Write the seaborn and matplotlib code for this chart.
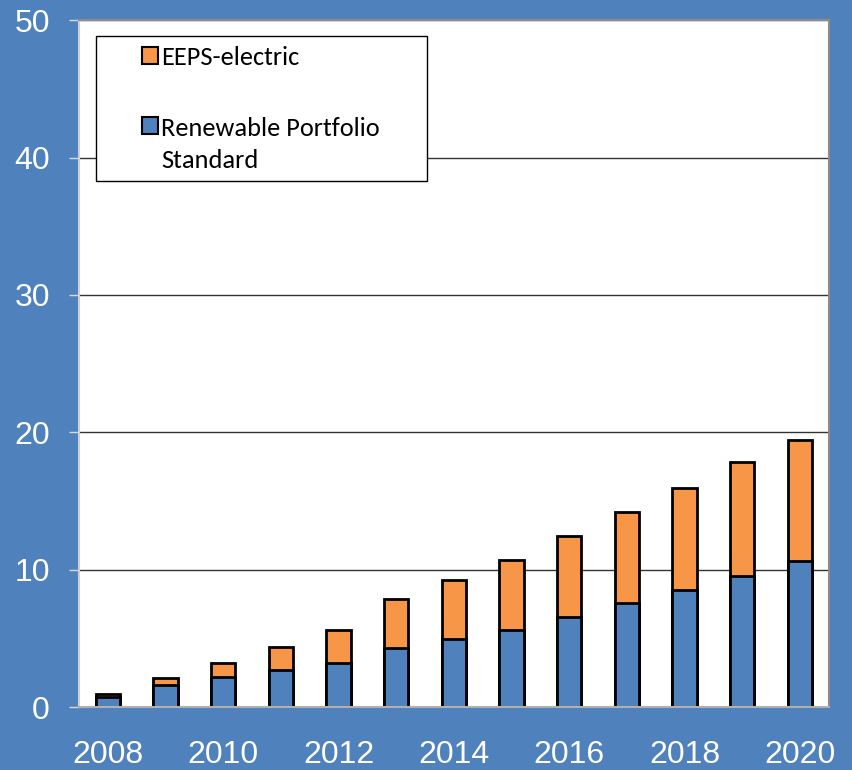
import matplotlib
matplotlib.use("Agg")
import matplotlib.pyplot as plt
import matplotlib.patches as mpatches
from matplotlib.legend_handler import HandlerPatch
import seaborn as sns
import pandas as pd

YEARS = [str(y) for y in range(2008, 2021)]
RPS = [0.75, 1.57, 2.2, 2.72, 3.2, 4.33, 4.97, 5.6, 6.55, 7.54, 8.52, 9.56, 10.6]
EEPS = [0.2, 0.51, 1.0, 1.65, 2.38, 3.5, 4.24, 5.07, 5.87, 6.65, 7.44, 8.24, 8.85]
LABELED_YEARS = ["2008", "2010", "2012", "2014", "2016", "2018", "2020"]

BG_BLUE = "#4F81BD"
BAR_BLUE = "#4F81BD"
BAR_ORANGE = "#F79646"

df = pd.DataFrame({"year": YEARS, "rps": RPS, "eeps": EEPS})
df["total"] = df["rps"] + df["eeps"]

sns.set_theme(style="white")
plt.rcParams["font.family"] = ["Liberation Sans", "DejaVu Sans"]

fig = plt.figure(figsize=(8.52, 7.7), dpi=100, facecolor=BG_BLUE)
ax = fig.add_axes([0.0927, 0.0818, 0.880, 0.892])
ax.set_facecolor("white")

# stacked: draw totals in orange, then the RPS part in blue on top
sns.barplot(data=df, x="year", y="total", color=BAR_ORANGE, saturation=1,
            width=0.42, edgecolor="black", linewidth=2.0, ax=ax)
sns.barplot(data=df, x="year", y="rps", color=BAR_BLUE, saturation=1,
            width=0.42, edgecolor="black", linewidth=2.0, ax=ax)

ax.set_ylim(0, 50)
ax.set_xlim(-0.5, len(YEARS) - 0.5)
ax.set_yticks([0, 10, 20, 30, 40, 50])
ax.yaxis.grid(True, color="#333333", linewidth=1.0)
ax.set_axisbelow(True)

pos = [YEARS.index(y) for y in LABELED_YEARS]
ax.set_xticks(pos)
ax.set_xticklabels(LABELED_YEARS)
ax.set_xticks([i - 0.5 for i in range(len(YEARS) + 1)], minor=True)
ax.tick_params(axis="x", which="major", length=0, pad=24, labelsize=23, colors="white")
ax.tick_params(axis="x", which="minor", length=7, width=1, color="#d9d9d9", direction="out")
ax.tick_params(axis="y", length=7, width=1, color="#d9d9d9", pad=14, labelsize=23,
               labelcolor="white", left=True)
ax.set_xlabel("")
ax.set_ylabel("")

for side in ["left", "right", "top", "bottom"]:
    ax.spines[side].set_visible(True)
    ax.spines[side].set_color("#8c8c8c")
    ax.spines[side].set_linewidth(1.5)
ax.spines["left"].set_color("#d0d0d0")
ax.spines["bottom"].set_color("#b0b0b0")


def top_aligned_patch(legend, orig_handle, xdescent, ydescent, width, height, fontsize):
    # put the swatch next to the first line of a two-line label
    return mpatches.Rectangle((-xdescent, -ydescent + 0.72 * fontsize), width, height)


handles = [
    mpatches.Patch(facecolor=BAR_ORANGE, edgecolor="black", linewidth=1.5, label="EEPS-electric"),
    mpatches.Patch(facecolor=BAR_BLUE, edgecolor="black", linewidth=1.5,
                   label="Renewable Portfolio\nStandard"),
]

# legend frame, sized like the original box
ax.add_patch(mpatches.Rectangle((0.0227, 0.7656), 0.441, 0.211, transform=ax.transAxes,
                                facecolor="white", edgecolor="black", linewidth=1.0,
                                zorder=4))
leg = ax.legend(handles=handles, loc="upper left", bbox_to_anchor=(0.084, 0.963),
                frameon=False, handlelength=0.6, handleheight=0.6, handletextpad=0.12,
                labelspacing=1.83, borderpad=0, borderaxespad=0,
                handler_map={handles[1]: HandlerPatch(patch_func=top_aligned_patch)},
                prop={"family": ["Carlito", "DejaVu Sans"], "size": 19})
leg.set_zorder(5)
leg._legend_box.align = "left"
for t in leg.get_texts():
    t.set_linespacing(1.5)
    t.set_color("black")

fig.savefig("out.png", dpi=100, facecolor=BG_BLUE)
